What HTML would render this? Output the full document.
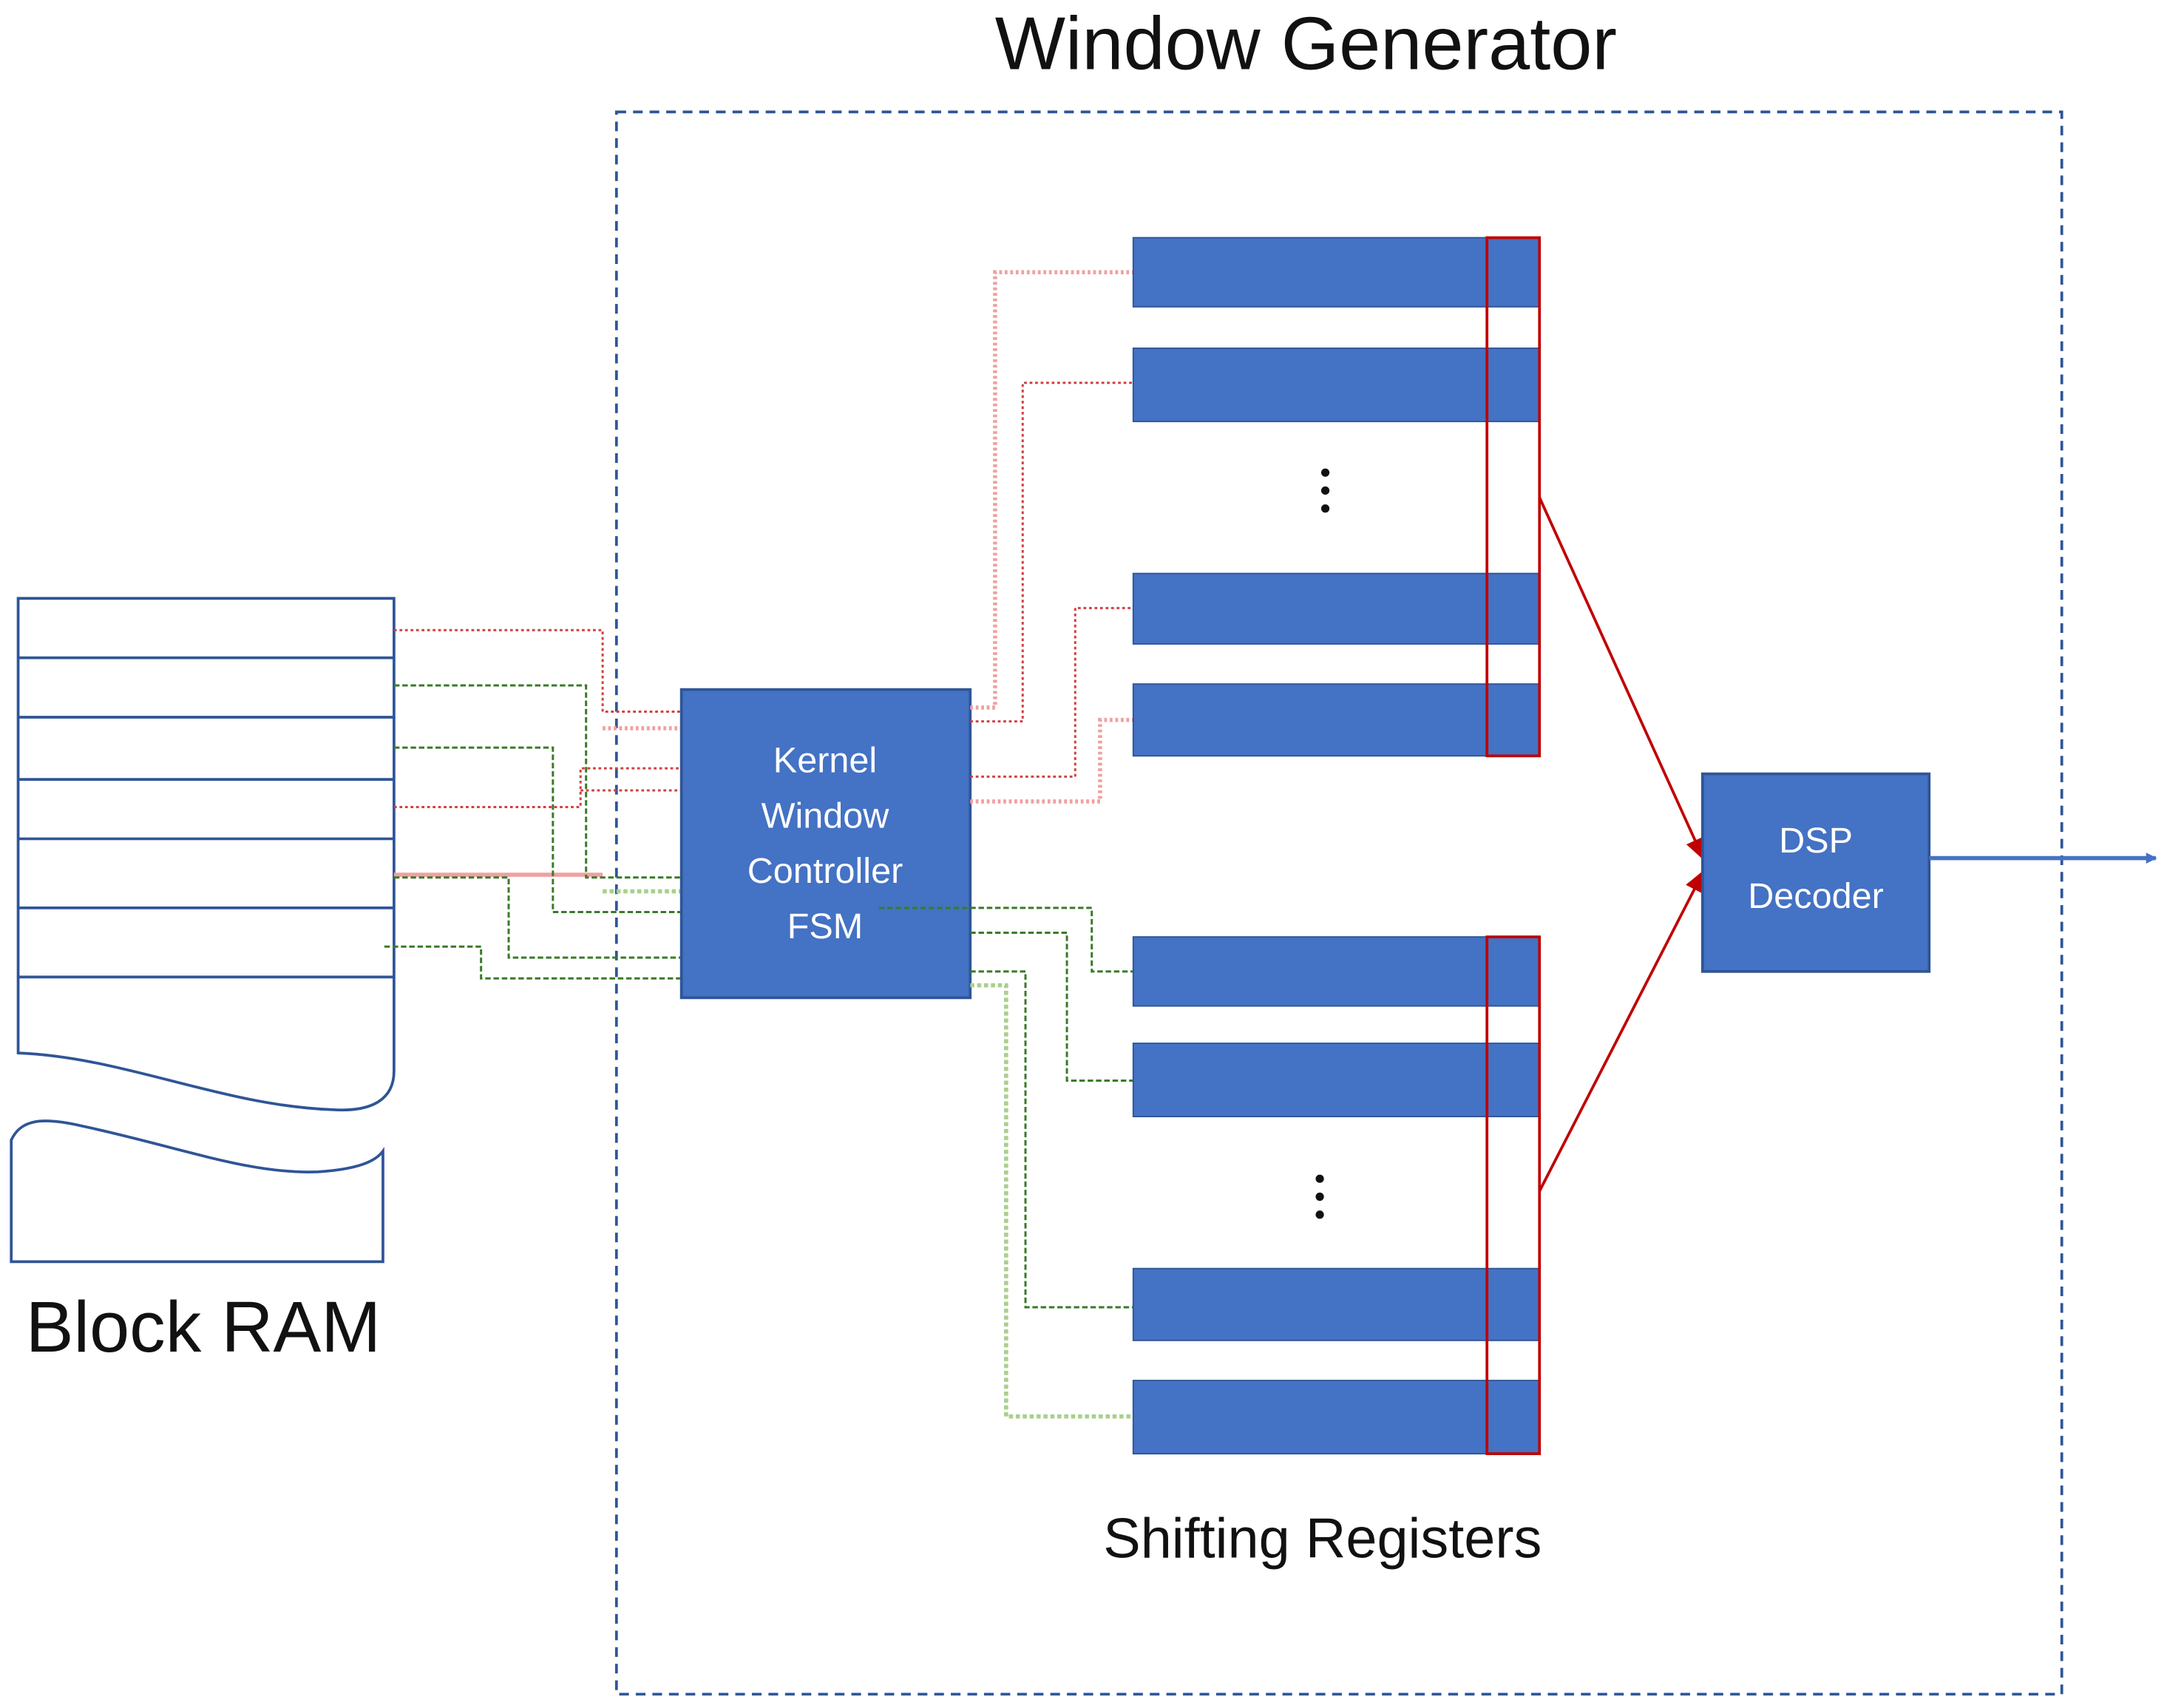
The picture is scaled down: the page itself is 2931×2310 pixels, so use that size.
<!DOCTYPE html>
<html><head><meta charset="utf-8"><style>
html,body{margin:0;padding:0;background:#fff;}
svg{display:block;}
text{font-family:"Liberation Sans","DejaVu Sans",sans-serif;}
</style></head><body>
<svg width="2931" height="2310" viewBox="0 0 1568 1236" xmlns="http://www.w3.org/2000/svg">
<defs>
<marker id="ab" markerWidth="8" markerHeight="8" refX="7" refY="4" orient="auto" markerUnits="userSpaceOnUse"><path d="M0,0 L8,4 L0,8 Z" fill="#4472c4"/></marker>
<marker id="ar" markerWidth="16" markerHeight="16" refX="13" refY="8" orient="auto" markerUnits="userSpaceOnUse"><path d="M0,1 L16,8 L0,15 Z" fill="#c00000"/></marker>
</defs>
<text x="945" y="50" font-size="54" text-anchor="middle" fill="#111">Window Generator</text>
<rect x="446" y="81" width="1046" height="1145" fill="none" stroke="#2f5597" stroke-width="2" stroke-dasharray="7,5"/>

<!-- Block RAM -->
<g fill="none" stroke="#2f5597" stroke-width="2">
<path d="M13,433 L285,433 L285,775 C285,795 270,805 240,803 C160,800 90,765 13,762 Z" fill="#fff"/>
<line x1="13" y1="476" x2="285" y2="476"/><line x1="13" y1="519" x2="285" y2="519"/>
<line x1="13" y1="564" x2="285" y2="564"/><line x1="13" y1="607" x2="285" y2="607"/>
<line x1="13" y1="657" x2="285" y2="657"/><line x1="13" y1="707" x2="285" y2="707"/>
<path d="M8,913 L8,825 C15,810 30,808 60,815 C130,830 180,850 230,848 C260,846 272,840 277,833 L277,913 Z" fill="#fff"/>
</g>
<text x="147" y="978" font-size="52" text-anchor="middle" fill="#111">Block RAM</text>

<!-- RAM to FSM connectors -->
<g fill="none" stroke-width="1.6">
<polyline points="285,456 436,456 436,515 493,515" stroke="#d04040" stroke-dasharray="2,2"/>
<polyline points="285,584 420,584 420,556 493,556" stroke="#d04040" stroke-dasharray="2,2"/>
<polyline points="420,572 493,572" stroke="#d04040" stroke-dasharray="2,2"/>
<polyline points="436,527 493,527" stroke="#f0a0a0" stroke-width="3" stroke-dasharray="2,2"/>
<polyline points="285,633 436,633" stroke="#f0a0a0" stroke-width="3"/>
<polyline points="285,496 424,496 424,635 493,635" stroke="#3a7a2a" stroke-dasharray="4,2"/>
<polyline points="285,541 400,541 400,660 493,660" stroke="#3a7a2a" stroke-dasharray="4,2"/>
<polyline points="285,635 368,635 368,693 493,693" stroke="#3a7a2a" stroke-dasharray="4,2"/>
<polyline points="278,685 348,685 348,708 493,708" stroke="#3a7a2a" stroke-dasharray="4,2"/>
<polyline points="436,645 493,645" stroke="#a8d08d" stroke-width="3" stroke-dasharray="3,2"/>
</g>

<!-- FSM -->
<rect x="493" y="499" width="209" height="223" fill="#4472c4" stroke="#2f5597" stroke-width="2"/>
<g fill="#fff" font-size="26" text-anchor="middle">
<text x="597" y="559">Kernel</text><text x="597" y="599">Window</text>
<text x="597" y="639">Controller</text><text x="597" y="679">FSM</text>
</g>

<!-- FSM to registers -->
<g fill="none" stroke-width="1.6">
<polyline points="702,512 720,512 720,197 820,197" stroke="#f0a0a0" stroke-width="3" stroke-dasharray="2,2"/>
<polyline points="702,522 740,522 740,277 820,277" stroke="#d04040" stroke-dasharray="2,2"/>
<polyline points="702,562 778,562 778,440 820,440" stroke="#d04040" stroke-dasharray="2,2"/>
<polyline points="702,580 796,580 796,521 820,521" stroke="#f0a0a0" stroke-width="3" stroke-dasharray="2,2"/>
<polyline points="636,657 790,657 790,703 820,703" stroke="#3a7a2a" stroke-dasharray="4,2"/>
<polyline points="702,675 772,675 772,782 820,782" stroke="#3a7a2a" stroke-dasharray="4,2"/>
<polyline points="702,703 742,703 742,946 820,946" stroke="#3a7a2a" stroke-dasharray="4,2"/>
<polyline points="702,713 728,713 728,1025 820,1025" stroke="#a8d08d" stroke-width="3" stroke-dasharray="3,2"/>
</g>

<!-- Registers -->
<g fill="#4472c4" stroke="#2f5597" stroke-width="1">
<rect x="820" y="172" width="294" height="50"/><rect x="820" y="252" width="294" height="53"/>
<rect x="820" y="415" width="294" height="51"/><rect x="820" y="495" width="294" height="52"/>
<rect x="820" y="678" width="294" height="50"/><rect x="820" y="755" width="294" height="53"/>
<rect x="820" y="918" width="294" height="52"/><rect x="820" y="999" width="294" height="53"/>
</g>
<g fill="none" stroke="#c00000" stroke-width="2">
<rect x="1076" y="172" width="38" height="375"/>
<rect x="1076" y="678" width="38" height="374"/>
</g>
<g fill="#111">
<circle cx="959" cy="342" r="3"/><circle cx="959" cy="355" r="3"/><circle cx="959" cy="368" r="3"/>
<circle cx="955" cy="853" r="3"/><circle cx="955" cy="866" r="3"/><circle cx="955" cy="879" r="3"/>
</g>

<!-- Red arrows -->
<line x1="1114" y1="360" x2="1232" y2="620" stroke="#c00000" stroke-width="2" marker-end="url(#ar)"/>
<line x1="1114" y1="862" x2="1232" y2="632" stroke="#c00000" stroke-width="2" marker-end="url(#ar)"/>

<!-- DSP -->
<rect x="1232" y="560" width="164" height="143" fill="#4472c4" stroke="#2f5597" stroke-width="2"/>
<text x="1314" y="617" font-size="26" fill="#fff" text-anchor="middle">DSP</text>
<text x="1314" y="657" font-size="26" fill="#fff" text-anchor="middle">Decoder</text>
<line x1="1396" y1="621" x2="1560" y2="621" stroke="#4472c4" stroke-width="3" marker-end="url(#ab)"/>

<text x="957" y="1127" font-size="40.5" text-anchor="middle" fill="#111">Shifting Registers</text>
</svg>
</body></html>
